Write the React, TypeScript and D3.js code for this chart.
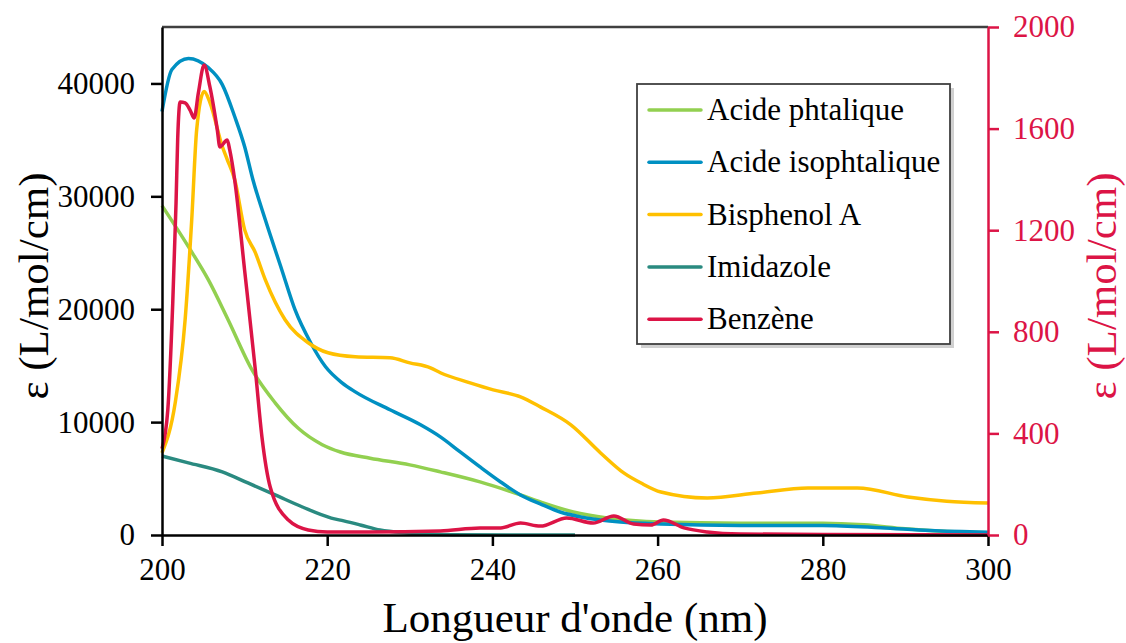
import React, { useEffect, useRef } from "react";
import * as d3 from "d3";

// wavelengths (nm) and molar absorptivity
const phtaliqueX = [200, 203.2, 205.6, 208, 210.9, 213.7, 216.5, 219.4, 221.6, 225.2, 230, 233.7, 238.5, 243.4, 245.8, 249.8, 253.9, 260.4, 270, 280, 285, 290, 295, 300];
const phtaliqueY = [29180, 25540, 22620, 19070, 14630, 11710, 9450, 8000, 7350, 6800, 6210, 5590, 4700, 3550, 2930, 2040, 1510, 1150, 1050, 1050, 900, 550, 320, 200];

const isoX = [200, 201.2, 203.2, 205.6, 207.3, 208.8, 210, 211, 212.5, 214.5, 216.1, 218, 219.8, 221.8, 223.4, 227.6, 231.3, 233.7, 236.1, 238.5, 241, 243.4, 245.8, 248.2, 250.7, 253.1, 255.5, 260.4, 270, 280, 287, 293, 300];
const isoY = [37520, 41240, 42220, 41400, 39900, 37070, 34410, 31490, 27940, 23500, 19960, 17030, 14900, 13480, 12680, 11090, 9760, 8690, 7360, 6030, 4700, 3550, 2750, 2040, 1600, 1330, 1150, 975, 850, 850, 650, 400, 250];

const bpaX = [200, 201.6, 202.8, 203.6, 204.2, 205.1, 205.8, 207.3, 207.9, 208.8, 210, 211.3, 212.5, 214.9, 217.7, 220.1, 223.4, 227.6, 230, 232.5, 233.7, 237.3, 240.1, 243.4, 245.8, 249.5, 253.1, 255.9, 258, 260.4, 266, 272, 278.2, 284.2, 290.3, 295, 300];
const bpaY = [7270, 11710, 19070, 27940, 35920, 39290, 38310, 34410, 33260, 31490, 27050, 25010, 22620, 19070, 17030, 16140, 15790, 15700, 15250, 14810, 14370, 13480, 12860, 12240, 11350, 9760, 7270, 5500, 4600, 3810, 3280, 3720, 4170, 4170, 3370, 3000, 2840];

const imidX = [200, 203.2, 207.3, 210.4, 213.7, 217, 220.5, 222, 224, 226.4, 229.7, 235, 250];
const imidY = [7000, 6390, 5590, 4610, 3550, 2480, 1500, 1250, 890, 440, 180, 20, 0];

const benzX = [200, 200.7, 201.3, 201.7, 201.9, 202.2, 202.8, 203.4, 203.9, 204.4, 205.1, 205.8, 206.7, 207, 207.9, 208.2, 208.8, 210, 211.3, 212.1, 213.1, 215.3, 217.7, 220, 225, 233.7, 238.5, 241, 243.4, 245.8, 249, 252.2, 254.7, 257.1, 259.2, 260.7, 263.2, 266, 270, 280, 300];
const benzY = [340, 492, 913, 1307, 1560, 1705, 1701, 1673, 1642, 1740, 1850, 1764, 1594, 1528, 1555, 1516, 1398, 1043, 650, 386, 189, 59, 20, 12, 12, 16, 28, 28, 47, 35, 67, 47, 75, 43, 39, 59, 28, 12, 4, 2, 0];

const seriesNames = ["Acide phtalique", "Acide isophtalique", "Bisphenol A", "Imidazole", "Benzène"];
const seriesColors = ["#92D050", "#0090C2", "#FFC000", "#2A8A80", "#DC1446"];

const xTicks = [200, 220, 240, 260, 280, 300];
const leftTicks = [0, 10000, 20000, 30000, 40000];
const rightTicks = [0, 400, 800, 1200, 1600, 2000];

const FONT = "'Liberation Serif', 'Times New Roman', serif";
const RED = "#DC1446";

const App: React.FC = () => {
  const svgRef = useRef<SVGSVGElement>(null);

  useEffect(() => {
    if (!svgRef.current) return;
    const svg = d3.select(svgRef.current);
    svg.selectAll("*").remove();

    const left = 162, right = 988, top = 27, bottom = 535;

    const x = d3.scaleLinear().domain([200, 300]).range([left, right]);
    const yL = d3.scaleLinear().domain([0, 45000]).range([bottom, top]);
    const yR = d3.scaleLinear().domain([0, 2000]).range([bottom, top]);
    const fmt = d3.format("d");

    // top frame
    svg.append("line")
      .attr("x1", left).attr("x2", right).attr("y1", top).attr("y2", top)
      .style("stroke", "#404040").style("stroke-width", 2.5);

    // curves
    const sets: [number[], number[], d3.ScaleLinear<number, number>][] = [
      [phtaliqueX, phtaliqueY, yL],
      [isoX, isoY, yL],
      [bpaX, bpaY, yL],
      [imidX, imidY, yL],
      [benzX, benzY, yR],
    ];
    sets.forEach(([xs, ys, yScale], i) => {
      const pts = xs.map((v, j) => [v, ys[j]] as [number, number]);
      const line = d3.line<[number, number]>()
        .x((d) => x(d[0]))
        .y((d) => yScale(d[1]))
        .curve(d3.curveMonotoneX);
      svg.append("path")
        .datum(pts)
        .attr("d", line)
        .style("fill", "none")
        .style("stroke", seriesColors[i])
        .style("stroke-width", 3.5)
        .style("stroke-linejoin", "round");
    });

    // x axis
    const xAxis = svg.append("g")
      .attr("transform", `translate(0,${bottom})`)
      .call(d3.axisBottom(x).tickValues(xTicks).tickFormat(fmt as any).tickSize(11).tickPadding(12).tickSizeOuter(0));
    xAxis.select(".domain").style("stroke", "#000").style("stroke-width", 2.5);
    xAxis.selectAll(".tick line").style("stroke", "#000").style("stroke-width", 2.5);
    xAxis.selectAll("text").style("font-family", FONT).style("font-size", "31px").style("fill", "#000");

    // left axis
    const lAxis = svg.append("g")
      .attr("transform", `translate(${left},0)`)
      .call(d3.axisLeft(yL).tickValues(leftTicks).tickFormat(fmt as any).tickSize(11).tickPadding(16).tickSizeOuter(0));
    lAxis.select(".domain").style("stroke", "#000").style("stroke-width", 2.5);
    lAxis.selectAll(".tick line").style("stroke", "#000").style("stroke-width", 2.5);
    lAxis.selectAll("text").style("font-family", FONT).style("font-size", "31px").style("fill", "#000");

    // right axis
    const rAxis = svg.append("g")
      .attr("transform", `translate(${right},0)`)
      .call(d3.axisRight(yR).tickValues(rightTicks).tickFormat(fmt as any).tickSize(11).tickPadding(14).tickSizeOuter(0));
    rAxis.select(".domain").style("stroke", RED).style("stroke-width", 2.5);
    rAxis.selectAll(".tick line").style("stroke", RED).style("stroke-width", 2.5);
    rAxis.selectAll("text").style("font-family", FONT).style("font-size", "31px").style("fill", RED);

    // axis titles
    svg.append("text")
      .attr("x", (left + right) / 2).attr("y", 632)
      .attr("text-anchor", "middle")
      .style("font-family", FONT).style("font-size", "43px").style("fill", "#000")
      .text("Longueur d'onde (nm)");

    svg.append("text")
      .attr("transform", `translate(48,${286}) rotate(-90)`)
      .attr("text-anchor", "middle")
      .style("font-family", FONT).style("font-size", "43px").style("fill", "#000")
      .text("ε (L/mol/cm)");

    svg.append("text")
      .attr("transform", `translate(1116,${286}) rotate(-90)`)
      .attr("text-anchor", "middle")
      .style("font-family", FONT).style("font-size", "43px").style("fill", RED)
      .text("ε (L/mol/cm)");

    // legend
    const lg = svg.append("g").attr("transform", "translate(637,84)");
    lg.append("rect")
      .attr("x", 4).attr("y", 4).attr("width", 313).attr("height", 260)
      .style("fill", "#b0b0b0").style("opacity", 0.6);
    lg.append("rect")
      .attr("width", 313).attr("height", 260)
      .style("fill", "#fff").style("stroke", "#404040").style("stroke-width", 1.8);
    seriesNames.forEach((name, i) => {
      const cy = 26 + i * 52.3;
      lg.append("line")
        .attr("x1", 12).attr("x2", 64).attr("y1", cy).attr("y2", cy)
        .style("stroke", seriesColors[i]).style("stroke-width", 3.5)
        .style("stroke-linecap", "round");
      lg.append("text")
        .attr("x", 70).attr("y", cy + 10)
        .style("font-family", FONT).style("font-size", "31px").style("fill", "#000")
        .text(name);
    });
  }, []);

  return (
    <div style={{ position: "absolute", left: 0, top: 0, width: 1126, height: 643, background: "#fff" }}>
      <svg ref={svgRef} width={1126} height={643} style={{ display: "block" }} />
    </div>
  );
};

export default App;
